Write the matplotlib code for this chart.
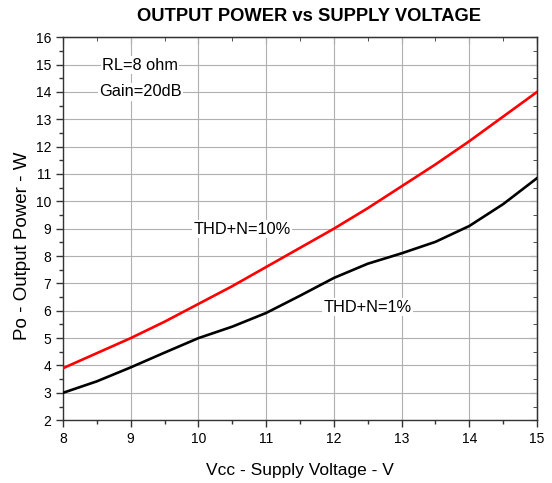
import numpy as np
import matplotlib.pyplot as plt

plt.rcParams['font.family'] = ['Liberation Sans', 'DejaVu Sans']

# values
vcc = [8, 8.5, 9, 9.5, 10, 10.5, 11, 11.5, 12, 12.5, 13, 13.5, 14, 14.5, 15]
po_thd10 = [3.9, 4.45, 5.0, 5.6, 6.25, 6.9, 7.6, 8.3, 9.0, 9.75, 10.55, 11.35, 12.2, 13.1, 14.0]
po_thd1 = [3.0, 3.42, 3.93, 4.47, 5.0, 5.42, 5.92, 6.55, 7.2, 7.72, 8.1, 8.52, 9.1, 9.9, 10.85]

fig = plt.figure(figsize=(5.52, 4.83), dpi=100)
ax = fig.add_axes([0.114, 0.130, 0.859, 0.793])

ax.plot(vcc, po_thd10, color='#ff0000', lw=1.9, zorder=3)
ax.plot(vcc, po_thd1, color='black', lw=1.9, zorder=3)

ax.set_xlim(8, 15)
ax.set_ylim(2, 16)
ax.set_xticks(np.arange(8, 16, 1))
ax.set_yticks(np.arange(2, 17, 1))
ax.set_xticks(np.arange(8.5, 15, 1), minor=True)
ax.set_yticks(np.arange(2.5, 16, 1), minor=True)
ax.grid(True, which='major', color='#b0b0b0', lw=0.8)
ax.tick_params(which='both', direction='out', labelsize=10, width=1, color='#333333')
ax.tick_params(which='major', length=5)
ax.tick_params(which='minor', length=3)
for s in ax.spines.values():
    s.set_linewidth(1.0)
    s.set_color('#333333')

top = ax.secondary_xaxis('top')
top.set_xticks(np.arange(8, 16, 1))
top.set_xticks(np.arange(8.5, 15, 1), minor=True)
top.tick_params(which='both', direction='in', labeltop=False, color='#333333')
top.tick_params(which='major', length=5)
top.tick_params(which='minor', length=3)
right = ax.secondary_yaxis('right')
right.set_yticks(np.arange(2, 17, 1))
right.set_yticks(np.arange(2.5, 16, 1), minor=True)
right.tick_params(which='both', direction='in', labelright=False, color='#333333')
right.tick_params(which='major', length=5)
right.tick_params(which='minor', length=3)

box = dict(facecolor='white', edgecolor='none', pad=1)
ax.text(9.14, 14.98, 'RL=8 ohm', ha='center', va='center', fontsize=11.8, bbox=box, zorder=4)
ax.text(9.14, 14.0, 'Gain=20dB', ha='center', va='center', fontsize=11.8, bbox=box, zorder=4)
ax.text(10.64, 8.98, 'THD+N=10%', ha='center', va='center', fontsize=11.8, bbox=box, zorder=4)
ax.text(12.5, 6.13, 'THD+N=1%', ha='center', va='center', fontsize=11.8, bbox=box, zorder=4)

ax.set_xlabel('Vcc - Supply Voltage - V', fontsize=12.5, labelpad=12)
ax.set_ylabel('Po - Output Power - W', fontsize=13.5)
ax.yaxis.set_label_coords(-0.068, 0.455)
fig.text(0.56, 0.965, 'OUTPUT POWER vs SUPPLY VOLTAGE', ha='center', va='center',
         fontsize=13.2, fontweight='bold')

fig.savefig('out.png', dpi=100)
